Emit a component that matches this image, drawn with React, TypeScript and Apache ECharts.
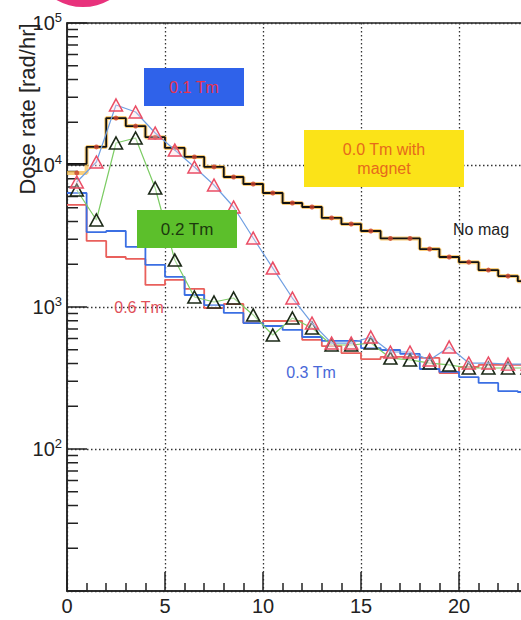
import React, { useEffect, useRef } from "react";
import * as echarts from "echarts";

// Bin values (bins of width 1 starting at 0)
const noMagnet = [10200, 13400, 21400, 18800, 15700, 13200, 11400, 9700, 8230, 7350, 6350, 5400, 5060, 4240, 3840, 3430, 3040, 3040, 2560, 2250, 2070, 1820, 1650, 1520, 1430];
const withMagnet = [8790, 13400, 21400, 18800, 15700, 13200, 11400, 9700, 8230, 7350, 6350, 5400, 5060, 4240, 3840, 3430, 3040, 3040, 2560, 2250, 2070, 1820, 1650, 1520, 1430];
const tm03 = [6350, 3370, 3430, 2650, 1980, 1630, 1215, 1030, 908, 771, 735, 689, 615, 577, 577, 514, 498, 467, 366, 349, 321, 292, 256, 252, 244];
const tm06 = [5230, 2920, 2250, 2180, 1430, 1550, 1340, 984, 1050, 771, 797, 797, 586, 531, 474, 430, 445, 445, 438, 343, 378, 391, 391, 391, 384];
// Point series at bin centres
const tm01 = [7590, 10500, 26470, 23620, 16800, 12750, 9680, 7230, 5060, 3060, 1880, 1157, 771, 557, 557, 615, 482, 482, 424, 523, 403, 403, 396, 396];
const tm02 = [6670, 4100, 14290, 15500, 6890, 2140, 1176, 1084, 1157, 879, 635, 837, 711, 540, 540, 557, 437, 424, 403, 391, 372, 372, 372, 372];

const xTicks = [0, 5, 10, 15, 20, 25];
const yDecades = [10, 100, 1000, 10000, 100000];
const yMinorTicks: number[] = [];
for (let d = 0; d < yDecades.length - 1; d++) {
  for (let m = 2; m <= 9; m++) yMinorTicks.push(yDecades[d] * m);
}

const FONT = '"Liberation Sans", Arial, Helvetica, sans-serif';

function stepData(vals: number[]) {
  const pts: [number, number][] = vals.map((v, i) => [i, v]);
  pts.push([vals.length, vals[vals.length - 1]]);
  return pts;
}
function centreData(vals: number[]) {
  return vals.map((v, i) => [i + 0.5, v]);
}

function label(x: number, y: number, w: number, h: number, fillBox: string, text: string, color: string, size: number, lh: number) {
  return [
    { type: "rect", shape: { x, y, width: w, height: h }, style: { fill: fillBox }, z: 50 },
    {
      type: "text",
      x: x + w / 2,
      y: y + h / 2,
      z: 51,
      style: { text, fill: color, font: `${size}px ${FONT}`, align: "center", verticalAlign: "middle", lineHeight: lh },
    },
  ];
}

export default function App() {
  const ref = useRef<HTMLDivElement>(null);
  useEffect(() => {
    document.body.style.margin = "0";
    const chart = echarts.init(ref.current!, undefined, { renderer: "svg" });
    const option: any = {
      animation: false,
      backgroundColor: "#ffffff",
      grid: {
        left: 67,
        top: 23,
        width: 490,
        height: 568,
        outerBoundsMode: "none",
        containLabel: false,
        show: true,
        borderColor: "#222",
        borderWidth: 1.5,
        backgroundColor: "transparent",
      },
      xAxis: {
        type: "value",
        min: xTicks[0],
        max: xTicks[xTicks.length - 1],
        interval: 5,
        axisLine: { show: true, lineStyle: { color: "#222", width: 1.5 } },
        axisTick: { show: true, inside: true, length: 19, lineStyle: { color: "#222", width: 1.5 } },
        minorTick: { show: true, splitNumber: 5, length: 8, lineStyle: { color: "#222", width: 1.5 } },
        axisLabel: { fontSize: 20, fontFamily: FONT, color: "#222", margin: 5, showMaxLabel: false },
        splitLine: { show: true, lineStyle: { color: "#333", width: 1.3, type: [1.5, 2.5] } },
      },
      yAxis: {
        type: "log",
        logBase: 10,
        min: yDecades[0],
        max: yDecades[yDecades.length - 1],
        axisLine: { show: true, lineStyle: { color: "#222", width: 1.5 } },
        axisTick: { show: true, inside: true, length: 20, lineStyle: { color: "#222", width: 1.5 } },
        axisLabel: {
          margin: 5,
          color: "#222",
          formatter: (v: number) => (v <= 10 ? "" : `{b|10}{s|${Math.round(Math.log10(v))}}`),
          rich: {
            b: { fontSize: 20, fontFamily: FONT, color: "#222", lineHeight: 24 },
            s: { fontSize: 13, fontFamily: FONT, color: "#222", verticalAlign: "top", lineHeight: 13 },
          },
        },
        splitLine: { show: true, lineStyle: { color: "#333", width: 1.3, type: [1.5, 2.5] } },
      },
      series: [
        {
          type: "custom",
          name: "minorY",
          data: yMinorTicks.map((v) => [0, v]),
          renderItem: (params: any, api: any) => {
            const p = api.coord([0, api.value(1)]);
            return { type: "line", shape: { x1: p[0], y1: p[1], x2: p[0] + 11, y2: p[1] }, style: { stroke: "#222", lineWidth: 1.5 } };
          },
          silent: true,
          z: 1,
        },
        { type: "line", name: "0.0 Tm with magnet", step: "end", data: stepData(withMagnet), symbol: "none", lineStyle: { color: "rgba(247,190,80,0.75)", width: 4 }, z: 2 },
        { type: "line", name: "0.6 Tm", step: "end", data: stepData(tm06), symbol: "none", lineStyle: { color: "#e9605c", width: 1.8 }, z: 3 },
        { type: "line", name: "0.3 Tm", step: "end", data: stepData(tm03), symbol: "none", lineStyle: { color: "#3b6fe3", width: 1.8 }, z: 3 },
        { type: "line", name: "No magnet", step: "end", data: stepData(noMagnet), symbol: "none", lineStyle: { color: "#111", width: 1.8 }, z: 4 },
        { type: "scatter", name: "magnet dots", data: centreData(withMagnet), symbol: "circle", symbolSize: 5, itemStyle: { color: "#c8402e" }, z: 5 },
        {
          type: "line",
          name: "0.2 Tm",
          data: centreData(tm02),
          symbol: "triangle",
          symbolSize: [13, 12],
          showAllSymbol: true,
          lineStyle: { color: "#7ccc64", width: 1.2 },
          itemStyle: { color: "rgba(255,255,255,0.35)", borderColor: "#1c2a18", borderWidth: 1.6 },
          z: 6,
        },
        {
          type: "line",
          name: "0.1 Tm",
          data: centreData(tm01),
          symbol: "triangle",
          symbolSize: [13, 12],
          showAllSymbol: true,
          lineStyle: { color: "#6f9fe2", width: 1.2 },
          itemStyle: { color: "rgba(255,220,225,0.35)", borderColor: "#ea4d65", borderWidth: 1.5 },
          z: 7,
        },
      ],
      graphic: [
        { type: "circle", shape: { cx: 83, cy: -47, r: 54 }, style: { fill: "#e8327c" }, z: 60 },
        {
          type: "text",
          x: 27,
          y: 109,
          rotation: Math.PI / 2,
          style: { text: "Dose rate [rad/hr]", fill: "#222", font: `22px ${FONT}`, align: "center", verticalAlign: "middle" },
          z: 60,
        },
        ...label(144, 68, 100, 38, "#2f62ea", "0.1 Tm", "#e8334f", 16, 19),
        ...label(304, 130, 160, 57, "#fbe318", "0.0 Tm with\nmagnet", "#e66a1c", 16, 19),
        ...label(137, 210, 100, 38, "#5cbf2b", "0.2 Tm", "#1c3a0e", 17, 20),
        { type: "text", x: 139, y: 307, z: 51, style: { text: "0.6 Tm", fill: "#e0505a", font: `16px ${FONT}`, align: "center", verticalAlign: "middle" } },
        { type: "text", x: 311, y: 372, z: 51, style: { text: "0.3 Tm", fill: "#4a68d8", font: `16px ${FONT}`, align: "center", verticalAlign: "middle" } },
        { type: "text", x: 453, y: 229, z: 51, style: { text: "No mag", fill: "#222", font: `16px ${FONT}`, align: "left", verticalAlign: "middle" } },
      ],
    };
    chart.setOption(option);
    return () => chart.dispose();
  }, []);
  return <div ref={ref} style={{ width: 521, height: 620 }} />;
}
